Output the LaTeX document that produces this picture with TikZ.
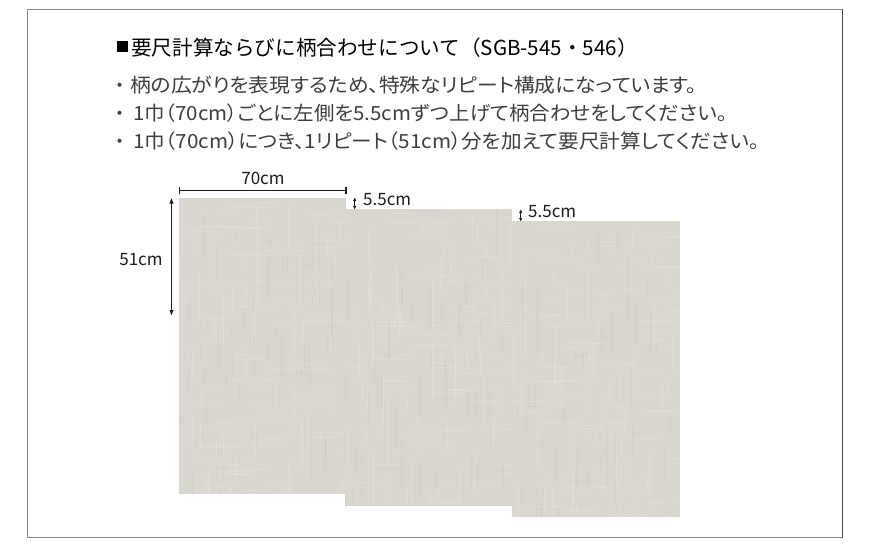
\documentclass[tikz,border=0pt]{standalone}
\usepackage{fontspec}
\setmainfont{Noto Sans CJK JP}
\newfontfamily\pfont{Noto Sans CJK JP}[RawFeature=+palt]
\usetikzlibrary{arrows.meta,calc}
\definecolor{linen}{RGB}{217,213,207}
\definecolor{ink}{RGB}{28,28,28}
\definecolor{framegray}{RGB}{135,135,135}
\begin{document}
\begin{tikzpicture}[x=1pt,y=-1pt,
  panel/.style={fill=linen, draw=none, inner sep=0pt, outer sep=0pt, anchor=north west},
  dimtext/.style={font=\fontsize{17}{17}\selectfont, text=ink, inner sep=0pt, anchor=base west},
  bulletline/.style={font=\pfont\fontsize{19.5}{20}\selectfont, text=ink!85, inner sep=0pt, anchor=base west},
  bulletdot/.style={font=\fontsize{19}{20}\selectfont, text=ink!85, inner sep=0pt, anchor=base},
  dimline/.style={line width=1.1pt, draw=ink},
  bigtip/.style={{Latex[length=6pt,width=4.5pt]}-{Latex[length=6pt,width=4.5pt]}},
  smalltip/.style={{Latex[length=3.5pt,width=3.5pt]}-{Latex[length=3.5pt,width=3.5pt]}},
  streak/.style={white, opacity=0.14, line width=0.7pt},
  darkstreak/.style={black, opacity=0.025, line width=0.7pt}]
\useasboundingbox (0,0) rectangle (870,554);
\fill[white] (0,0) rectangle (870,554);
% frame
\draw[framegray, line width=1pt] (27.5,9) rectangle (842.5,537.5);
\draw[ink!80, line width=1pt] (842.5,9) -- (842.5,537.5);
% title
\node[fill=black, minimum size=11pt, inner sep=0pt] (sq) at (122.5,46.5) {};
\node[font=\fontsize{20.6}{21}\selectfont, text=black, anchor=base west, inner sep=0pt] (title) at (131,55.5) {要尺計算ならびに柄合わせについて（SGB-545・546）};
% bullets
\node[bulletdot] (d1) at (120,92.5) {・};
\node[bulletdot] (d2) at (120,120.5) {・};
\node[bulletdot] (d3) at (120,148.5) {・};
\node[bulletline] (b1) at (130,92.5) {\scalebox{1.068}[1]{柄の広がりを表現するため、特殊なリピート構成になっています。}};
\node[bulletline] (b2) at (133,120.5) {\scalebox{1.051}[1]{1巾（70cm）ごとに左側を5.5cmずつ上げて柄合わせをしてください。}};
\node[bulletline] (b3) at (133,148.5) {\scalebox{1.058}[1]{1巾（70cm）につき、1リピート（51cm）分を加えて要尺計算してください。}};
% panels
\node[panel, minimum width=166.5pt, minimum height=296.5pt] (p1) at (179,197.5) {};
\node[panel, minimum width=167pt, minimum height=296.7pt] (p2) at (345,209.3) {};
\node[panel, minimum width=168pt, minimum height=296pt] (p3) at (512,221.3) {};
% linen texture
\pgfmathsetseed{7}
\foreach \p in {p1,p2,p3}{
  \begin{scope}
    \clip (\p.north west) rectangle (\p.south east);
    \coordinate (nw) at (\p.north west);
    \foreach \i in {1,...,70}{
      \pgfmathsetmacro\rx{170*rnd}
      \pgfmathsetmacro\ry{300*rnd}
      \pgfmathsetmacro\ln{10+50*rnd}
      \draw[streak] ($(nw)+(\rx,\ry)$) -- ++(0,\ln);
    }
    \foreach \i in {1,...,70}{
      \pgfmathsetmacro\rx{170*rnd}
      \pgfmathsetmacro\ry{300*rnd}
      \pgfmathsetmacro\ln{10+40*rnd}
      \draw[streak] ($(nw)+(\rx,\ry)$) -- ++(\ln,0);
    }
    \foreach \i in {1,...,50}{
      \pgfmathsetmacro\rx{170*rnd}
      \pgfmathsetmacro\ry{300*rnd}
      \pgfmathsetmacro\ln{10+40*rnd}
      \draw[darkstreak] ($(nw)+(\rx,\ry)$) -- ++(0,\ln);
    }
  \end{scope}
}
% width dimension
\coordinate (h1) at (179.5,190.5);
\coordinate (h2) at (346,190.5);
\draw[dimline] (h1) -- (h2);
\draw[dimline] ($(h1)+(0,-3.5)$) -- ($(h1)+(0,3.5)$);
\draw[dimline] ($(h2)+(0,-3.5)$) -- ($(h2)+(0,3.5)$);
\node[dimtext, anchor=base] (l70) at (263,184) {70cm};
% height dimension
\coordinate (v1) at (171.5,197.5);
\coordinate (v2) at (171.5,316);
\draw[dimline, bigtip] (v1) -- (v2);
\node[dimtext, anchor=base] (l51) at (141,265) {51cm};
% offsets
\coordinate (s1a) at (354.7,197.5);
\coordinate (s1b) at (354.7,209.5);
\draw[line width=0.9pt, ink, smalltip] (s1a) -- (s1b);
\node[dimtext] (l55a) at (363,205) {5.5cm};
\coordinate (s2a) at (520.7,209.5);
\coordinate (s2b) at (520.7,221.5);
\draw[line width=0.9pt, ink, smalltip] (s2a) -- (s2b);
\node[dimtext] (l55b) at (528,217.5) {5.5cm};
\end{tikzpicture}
\end{document}
